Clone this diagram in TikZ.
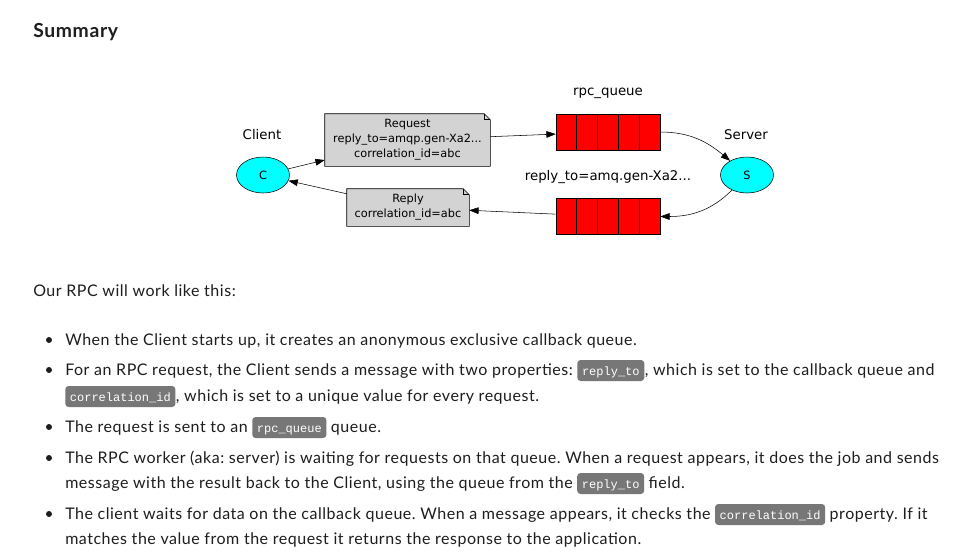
\documentclass[tikz,border=0pt]{standalone}
\usepackage{fontspec}
\setmainfont{Lato}[LetterSpace=3.3]
\newfontfamily\diagfont{DejaVu Sans}
\newfontfamily\codefont{Liberation Mono}
\usetikzlibrary{arrows.meta, positioning, shapes.geometric, backgrounds}
\definecolor{codegray}{HTML}{777777}
\definecolor{notegray}{HTML}{D3D3D3}
\definecolor{peercyan}{HTML}{00FFFF}
\definecolor{queuered}{HTML}{FF0000}
\definecolor{textdark}{HTML}{1E1E1E}
\frenchspacing
% note with a folded corner, drawn behind the named node
\newcommand{\dognote}[1]{%
  \begin{scope}[on background layer]
    \filldraw[fill=notegray] (#1.south west) -- (#1.north west)
      -- ([xshift=-4.5pt]#1.north east) -- ([yshift=-4.5pt]#1.north east)
      -- (#1.south east) -- cycle;
    \draw ([xshift=-4.5pt]#1.north east) |- ([yshift=-4.5pt]#1.north east);
  \end{scope}}

\begin{document}
\begin{tikzpicture}[
  x=0.75pt, y=-0.75pt,
  >={Triangle[length=7pt,width=5pt]},
  line/.style={inner sep=0pt, anchor=base west, text=textdark,
               font=\fontsize{12}{14}\selectfont},
  codebox/.style={fill=codegray, text=white, rounded corners=2.5pt,
                  inner xsep=3.5pt, inner ysep=3.5pt, text height=7.75pt,
                  text depth=1pt, anchor=base west,
                  font=\codefont\fontsize{9}{10}\selectfont},
  bullet/.style={circle, fill=textdark, inner sep=0pt, minimum size=4.5pt},
  peer/.style={ellipse, draw, fill=peercyan, minimum width=39.75pt,
               minimum height=27pt, inner sep=0pt,
               font=\diagfont\fontsize{8.5}{10}\selectfont},
  note/.style={align=center, inner sep=0pt,
               font=\diagfont\fontsize{8.5}{11.25}\selectfont},
  queue/.style={draw, fill=queuered, minimum width=78pt, minimum height=27pt,
                inner sep=0pt},
  lbl/.style={font=\diagfont\fontsize{10}{12}\selectfont},
  flow/.style={->, thin}
]
\begin{scope}[on background layer]
  \fill[white] (0,0) rectangle (957,554);
\end{scope}
\useasboundingbox (0,0) rectangle (957,554);

\node[line, font=\bfseries\fontsize{14.5}{17}\selectfont] (title) at (33,37) {Summary};

% diagram
\node[peer] (c) at (263,175) {C};
\node[lbl] (clbl) at (262,135) {Client};
\node[peer] (s) at (747,175) {S};
\node[lbl] (slbl) at (746,135) {Server};

\node[note, minimum width=123.75pt, minimum height=39pt] (req) at (407.5,140)
  {Request\\reply\_to=amqp.gen-Xa2...\\correlation\_id=abc};
\dognote{req}
\node[note, minimum width=91.5pt, minimum height=27.75pt] (rep) at (408,207.5)
  {Reply\\correlation\_id=abc};
\dognote{rep}

\node[queue] (rpcq) at (608,132) {};
\node[queue] (replyq) at (608,216.5) {};
\foreach \q in {rpcq, replyq}
  \foreach \i in {1,...,4}
    \draw ([xshift=\i*15.6pt]\q.south west) -- ([xshift=\i*15.6pt]\q.north west);
\node[lbl] (qlbl) at (608,93) {rpc\_queue};
\node[lbl] (rlbl) at (608,177) {reply\_to=amq.gen-Xa2...};

\draw[flow] (c) -- (req);
\draw[flow] (req) -- (rpcq);
\draw[flow] (rpcq.east) to[out=0, in=140] (s);
\draw[flow] (s) to[out=-135, in=0] (replyq.east);
\draw[flow] (replyq) -- (rep);
\draw[flow] (rep) -- (c);

% text
\node[line] (intro) at (33,296) {Our RPC will work like this:};

\foreach \y in {345,375,432,463,519}
  \node[bullet] at (49,\y-5) {};

\node[line] (l1) at (65,345)
  {When the Client starts up, it creates an anonymous exclusive callback queue.};

\node[line] (l2a) at (65,375)
  {For an RPC request, the Client sends a message with two properties:};
\node[codebox] (l2b) at ([xshift=3pt]l2a.base east) {reply\_to};
\node[line] (l2c) at (l2b.base east) {, which is set to the callback queue and};

\node[codebox] (l3a) at (65,401) {correlation\_id};
\node[line] (l3b) at (l3a.base east) {, which is set to a unique value for every request.};

\node[line] (l4a) at (65,432) {The request is sent to an};
\node[codebox] (l4b) at ([xshift=3pt]l4a.base east) {rpc\_queue};
\node[line] (l4c) at ([xshift=3pt]l4b.base east) {queue.};

\node[line] (l5) at (65,463)
  {The RPC worker (aka: server) is waiting for requests on that queue. When a request appears, it does the job and sends};

\node[line] (l6a) at (65,488)
  {message with the result back to the Client, using the queue from the};
\node[codebox] (l6b) at ([xshift=3pt]l6a.base east) {reply\_to};
\node[line] (l6c) at ([xshift=3pt]l6b.base east) {field.};

\node[line] (l7a) at (65,519)
  {The client waits for data on the callback queue. When a message appears, it checks the};
\node[codebox] (l7b) at ([xshift=3pt]l7a.base east) {correlation\_id};
\node[line] (l7c) at ([xshift=3pt]l7b.base east) {property. If it};

\node[line] (l8) at (65,544)
  {matches the value from the request it returns the response to the application.};
\end{tikzpicture}
\end{document}
